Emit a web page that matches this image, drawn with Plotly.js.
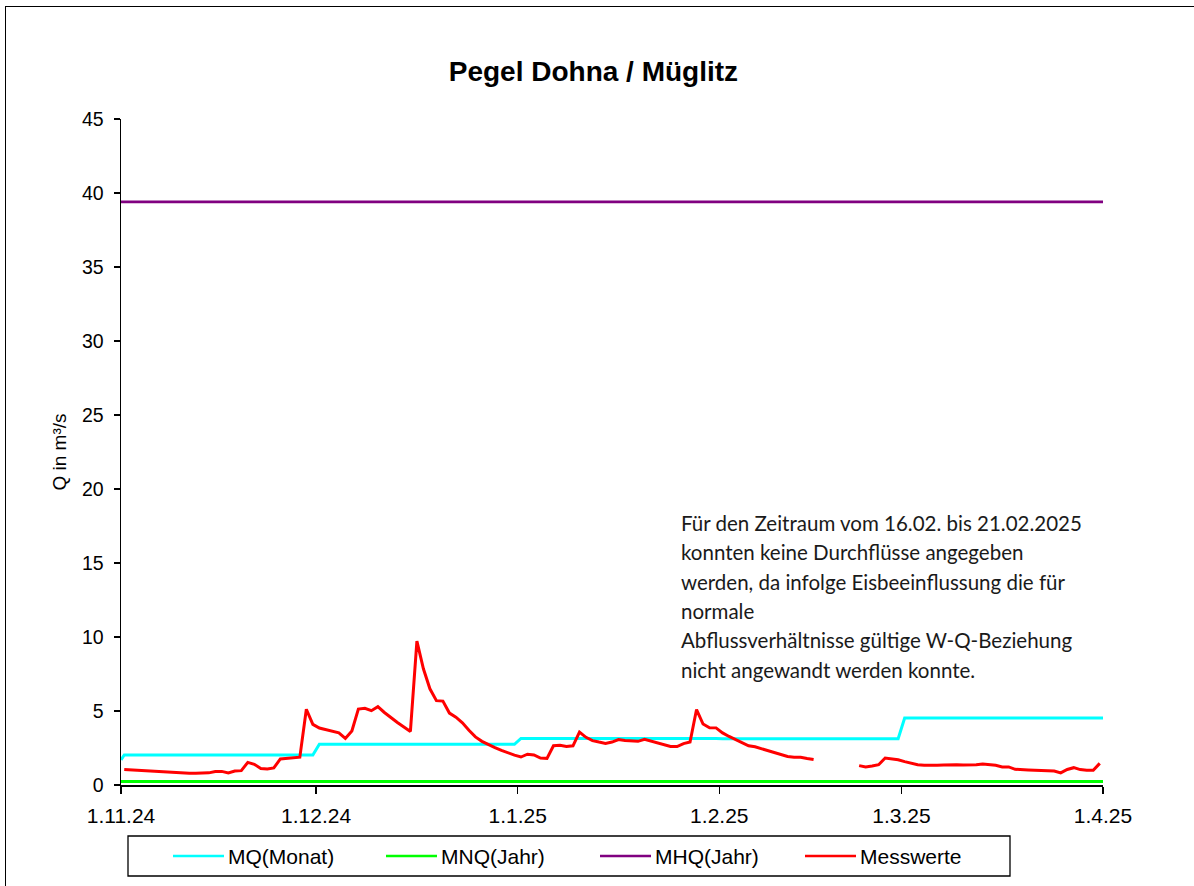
<!DOCTYPE html>
<html>
<head>
<meta charset="utf-8">
<script src="https://cdn.plot.ly/plotly-3.0.1.min.js"></script>
<style>
  html, body { margin:0; padding:0; background:#fff; overflow:hidden; }
  #wrap { position:relative; width:1194px; height:886px; }
  #chart { position:absolute; left:0; top:0; width:1194px; height:886px; }
  #frame { position:absolute; left:5px; top:6px; width:1300px; height:1000px;
           border:1.5px solid #000; pointer-events:none; box-sizing:border-box; }
</style>
</head>
<body>
<div id="wrap">
  <div id="chart"></div>
  <div id="frame"></div>
</div>
<script>
// ---------- data ----------
const tickDates = ["2024-11-01","2024-12-01","2025-01-01","2025-02-01","2025-03-01","2025-04-01"];
const tickLabels = ["1.11.24","1.12.24","1.1.25","1.2.25","1.3.25","1.4.25"];

// daily measured discharge (m³/s), one value per day, null = no value
const messNov = [1.05,1.02,0.99,0.98,0.96,0.94,0.89,0.85,0.82,0.80,0.79,0.79,0.80,0.82,0.91,
                 0.92,0.82,0.95,0.97,1.53,1.40,1.12,1.08,1.15,1.76,1.80,1.87,1.88,5.12,4.10];
const messDec = [3.85,3.73,3.62,3.52,3.15,3.65,5.13,5.18,5.02,5.29,4.90,4.55,4.22,3.92,3.62,
                 9.72,7.85,6.50,5.70,5.67,4.86,4.58,4.20,3.70,3.25,2.95,2.72,2.52,2.34,2.16,2.02];
const messJan = [1.89,2.08,2.03,1.82,1.80,2.65,2.68,2.60,2.65,3.58,3.22,3.00,2.90,2.81,2.90,
                 3.07,3.00,2.95,2.95,3.08,2.96,2.82,2.73,2.60,2.60,2.80,2.90,5.10,4.12,3.87,3.86];
const messFeb = [3.52,3.28,3.06,2.82,2.65,2.58,2.45,2.33,2.18,2.02,1.93,1.88,1.87,1.79,1.72,
                 null,null,null,null,null,null,1.31,1.22,1.28,1.37,1.82,1.78,1.70];
const messMar = [1.58,1.49,1.37,1.34,1.31,1.33,1.35,1.37,1.37,1.35,1.35,1.37,1.42,1.37,1.33,
                 1.22,1.22,1.06,1.06,1.01,0.99,0.97,0.97,0.95,0.82,1.05,1.17,1.04,0.99,0.99,1.46];

// monthly mean discharge MQ(Monat)
const mqMonths = ["2024-11","2024-12","2025-01","2025-02","2025-03"];
const mqLastDay = [30,31,31,28,31];
const mqValues = [2.03,2.75,3.15,3.13,4.52];
const mqStartValue = 1.7;

const mnqValue = 0.23;   // MNQ(Jahr)
const mhqValue = 39.4;   // MHQ(Jahr)
const periodStart = "2024-11-01";
const periodEnd = "2025-04-01";

const seriesNames = ["MQ(Monat)","MNQ(Jahr)","MHQ(Jahr)","Messwerte"];
const seriesColors = ["#00FFFF","#00FF00","#800080","#FF0000"];

const annotationLines = [
  "Für den Zeitraum vom 16.02. bis 21.02.2025",
  "konnten keine Durchflüsse angegeben",
  "werden, da infolge Eisbeeinflussung die für",
  "normale",
  "Abflussverhältnisse gültige W-Q-Beziehung",
  "nicht angewandt werden konnte."
];

// ---------- build series ----------
function pad(n){ return (n<10?"0":"")+n; }
const messMonths = [["2024-11",messNov],["2024-12",messDec],["2025-01",messJan],["2025-02",messFeb],["2025-03",messMar]];
const messX = [], messY = [];
messMonths.forEach(([m, arr]) => {
  arr.forEach((v, i) => { messX.push(m + "-" + pad(i+1) + " 12:00"); messY.push(v); });
});

const mqX = [periodStart + " 00:00"], mqY = [mqStartValue];
mqMonths.forEach((m, i) => {
  mqX.push(m + "-01 12:00"); mqY.push(mqValues[i]);
  mqX.push(m + "-" + pad(mqLastDay[i]) + " 12:00"); mqY.push(mqValues[i]);
});
mqX.push(periodEnd + " 00:00"); mqY.push(mqValues[mqValues.length-1]);

const traces = [
  {x: mqX, y: mqY, name: seriesNames[0], mode: "lines", line: {color: seriesColors[0], width: 3}},
  {x: [periodStart, periodEnd], y: [mnqValue, mnqValue], name: seriesNames[1], mode: "lines", line: {color: seriesColors[1], width: 3}},
  {x: [periodStart, periodEnd], y: [mhqValue, mhqValue], name: seriesNames[2], mode: "lines", line: {color: seriesColors[2], width: 2.7}},
  {x: messX, y: messY, name: seriesNames[3], mode: "lines", connectgaps: false, line: {color: seriesColors[3], width: 3}}
];

// ---------- layout helpers (pixel -> paper) ----------
const PL = 121, PR = 1103, PT = 119, PB = 785;
const px = v => (v - PL) / (PR - PL);
const py = v => (PB - v) / (PB - PT);

const annotations = annotationLines.map((t, i) => ({
  text: t, xref: "paper", yref: "paper", x: px(679), xanchor: "left",
  y: py(523 + i * 29.3), yanchor: "middle",
  showarrow: false, align: "left",
  font: {family: "Lato, 'Noto Sans', sans-serif", size: 20.5, color: "#1a1a1a"}
}));

// custom legend (box, line samples, labels)
const legendFont = {family: "'Liberation Sans', Arial, sans-serif", size: 21, color: "#000"};
const legLineStart = [173, 386, 600, 805];
const legLineLen = 51;
const legY = 856;
const shapes = [{type: "rect", xref: "paper", yref: "paper", x0: px(128), x1: px(1010), y0: py(836), y1: py(876),
                 line: {color: "#000", width: 1.3}, fillcolor: "rgba(0,0,0,0)", layer: "above"}];
seriesNames.forEach((n, i) => {
  shapes.push({type: "line", xref: "paper", yref: "paper", x0: px(legLineStart[i]), x1: px(legLineStart[i] + legLineLen),
               y0: py(legY), y1: py(legY), line: {color: seriesColors[i], width: 2.5}});
  annotations.push({text: n, xref: "paper", yref: "paper", x: px(legLineStart[i] + legLineLen + 2), xanchor: "left",
                    y: py(legY), yanchor: "middle", showarrow: false, font: legendFont});
});

const layout = {
  width: 1194, height: 886,
  paper_bgcolor: "#fff", plot_bgcolor: "#fff",
  margin: {l: PL, r: 1194 - PR, t: PT, b: 886 - PB, pad: 0},
  title: {text: "<b>Pegel Dohna / Müglitz</b>", x: 0.497, xref: "container", y: 1 - 71/886, yref: "container", yanchor: "middle",
          font: {family: "'Liberation Sans', Arial, sans-serif", size: 28, color: "#000"}},
  showlegend: false,
  xaxis: {type: "date", range: [periodStart, periodEnd], tickmode: "array", tickvals: tickDates, ticktext: tickLabels,
          showgrid: false, zeroline: false, showline: true, linecolor: "#000", linewidth: 1.5,
          ticks: "outside", ticklen: 7, tickwidth: 1.5, tickcolor: "#000",
          tickfont: {family: "'Liberation Sans', Arial, sans-serif", size: 21, color: "#000"}, ticklabelstandoff: 4,
          automargin: false},
  yaxis: {range: [0, 45], dtick: 5, tick0: 0, showgrid: false, zeroline: false, showline: true, linecolor: "#000", linewidth: 1.5,
          ticks: "outside", ticklen: 6, tickwidth: 1.5, tickcolor: "#000",
          tickfont: {family: "'Liberation Sans', Arial, sans-serif", size: 19.5, color: "#000"}, ticklabelstandoff: 6,
          title: {text: "Q in m³/s", font: {family: "'Liberation Sans', Arial, sans-serif", size: 19, color: "#000"}, standoff: 10},
          automargin: false},
  shapes: shapes,
  annotations: annotations
};

Plotly.newPlot("chart", traces, layout, {displayModeBar: false, staticPlot: true});
</script>
</body>
</html>
